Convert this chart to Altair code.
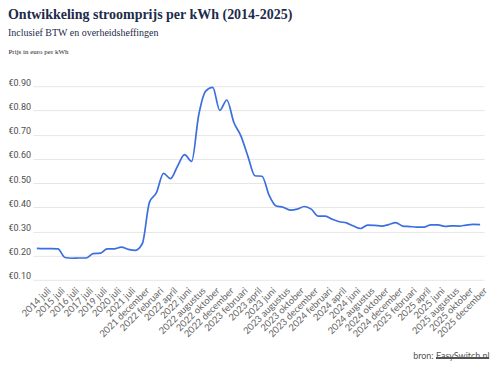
import altair as alt
import pandas as pd

periods = [
    "2014 juli", "2015 januari", "2015 juli", "2016 januari", "2016 juli",
    "2017 januari", "2017 juli", "2018 juli", "2019 juli", "2020 januari",
    "2020 juli", "2021 januari", "2021 juli", "2021 oktober", "2021 december",
    "2022 januari", "2022 februari", "2022 maart", "2022 april", "2022 mei",
    "2022 juni", "2022 juli", "2022 augustus", "2022 september", "2022 oktober",
    "2022 november", "2022 december",
    "2023 januari", "2023 februari", "2023 maart", "2023 april", "2023 mei",
    "2023 juni", "2023 juli", "2023 augustus", "2023 september", "2023 oktober",
    "2023 november", "2023 december",
    "2024 januari", "2024 februari", "2024 maart", "2024 april", "2024 mei",
    "2024 juni", "2024 juli", "2024 augustus", "2024 september", "2024 oktober",
    "2024 november", "2024 december",
    "2025 januari", "2025 februari", "2025 maart", "2025 april", "2025 mei",
    "2025 juni", "2025 juli", "2025 augustus", "2025 september", "2025 oktober",
    "2025 november", "2025 december", "2026 januari",
]

prices = [
    0.230, 0.229, 0.229, 0.228, 0.192, 0.189, 0.190, 0.190, 0.208, 0.210,
    0.228, 0.228, 0.235, 0.226, 0.222, 0.250, 0.420, 0.460, 0.540, 0.518,
    0.570, 0.617, 0.589, 0.780, 0.880, 0.895, 0.800, 0.843, 0.750, 0.695,
    0.610, 0.530, 0.528, 0.450, 0.405, 0.400, 0.388, 0.392, 0.403, 0.392,
    0.363, 0.363, 0.350, 0.340, 0.335, 0.322, 0.312, 0.326, 0.325, 0.322,
    0.328, 0.336, 0.322, 0.320, 0.318, 0.318, 0.327, 0.327, 0.321, 0.323,
    0.322, 0.326, 0.329, 0.328,
]

shown_labels = periods[0:63:2]
y_ticks = [0.1, 0.2, 0.3, 0.4, 0.5, 0.6, 0.7, 0.8, 0.9]

df = pd.DataFrame({"periode": periods, "prijs": prices})

W, H = 452, 194

line = alt.Chart(df).mark_line(
    color="#3b6fe0", strokeWidth=1.7, interpolate="monotone"
).encode(
    x=alt.X(
        "periode:O",
        sort=periods,
        scale=alt.Scale(type="point", padding=0.55),
        axis=alt.Axis(
            values=shown_labels,
            labelAngle=-45,
            labelAlign="right",
            labelBaseline="middle",
            labelPadding=9,
            labelOffset=12,
            labelOverlap=False,
            ticks=False,
            tickSize=0,
            domain=False,
            grid=False,
            labelFont="Lato",
            labelFontSize=9.5,
            labelColor="#666666",
            title="bron: EasySwitch.nl",
            titleFont="Lato",
            titleFontSize=9,
            titleFontWeight="normal",
            titleColor="#555555",
            titleAlign="right",
            titleAnchor="end",
            titleX=457,
            titleY=79,
            titleBaseline="alphabetic",
        ),
    ),
    y=alt.Y(
        "prijs:Q",
        scale=alt.Scale(domain=[0.1, 0.9], nice=False, zero=False),
        axis=alt.Axis(
            values=y_ticks,
            labelExpr="'€' + format(datum.value, '.2f')",
            grid=True,
            gridColor="#e6e6e6",
            gridWidth=1,
            ticks=False,
            tickSize=0,
            domain=False,
            labelAlign="left",
            labelPadding=25,
            labelBaseline="alphabetic",
            labelOffset=-1,
            labelFont="Roboto",
            labelFontSize=9,
            labelColor="#4d4d4d",
            title="Prijs in euro per kWh",
            titleAngle=0,
            titleAlign="left",
            titleX=-25,
            titleY=-33,
            titleBaseline="alphabetic",
            titleFont="Liberation Serif",
            titleFontSize=7,
            titleFontWeight="normal",
            titleColor="#222222",
        ),
    ),
)

underline = alt.Chart(df).mark_rule(color="#555555", strokeWidth=0.7).encode(
    x=alt.value(404), x2=alt.value(457), y=alt.value(272)
)

chart = alt.layer(line, underline).properties(
    width=W,
    height=H,
    autosize=alt.AutoSizeParams(type="none"),
    padding={"left": 25, "top": 78, "right": 8, "bottom": 82},
    title=alt.TitleParams(
        text="Ontwikkeling stroomprijs per kWh (2014-2025)",
        subtitle="Inclusief BTW en overheidsheffingen",
        anchor="start",
        frame="bounds",
        font="Liberation Serif",
        fontSize=14,
        fontWeight="bold",
        color="#1d2b4a",
        subtitleFont="Liberation Serif",
        subtitleFontSize=10,
        subtitleColor="#1d2b4a",
        subtitlePadding=6,
        offset=9,
    ),
).configure_view(stroke=None)

chart.save("out.html", embed_options={"renderer": "svg", "actions": False})
